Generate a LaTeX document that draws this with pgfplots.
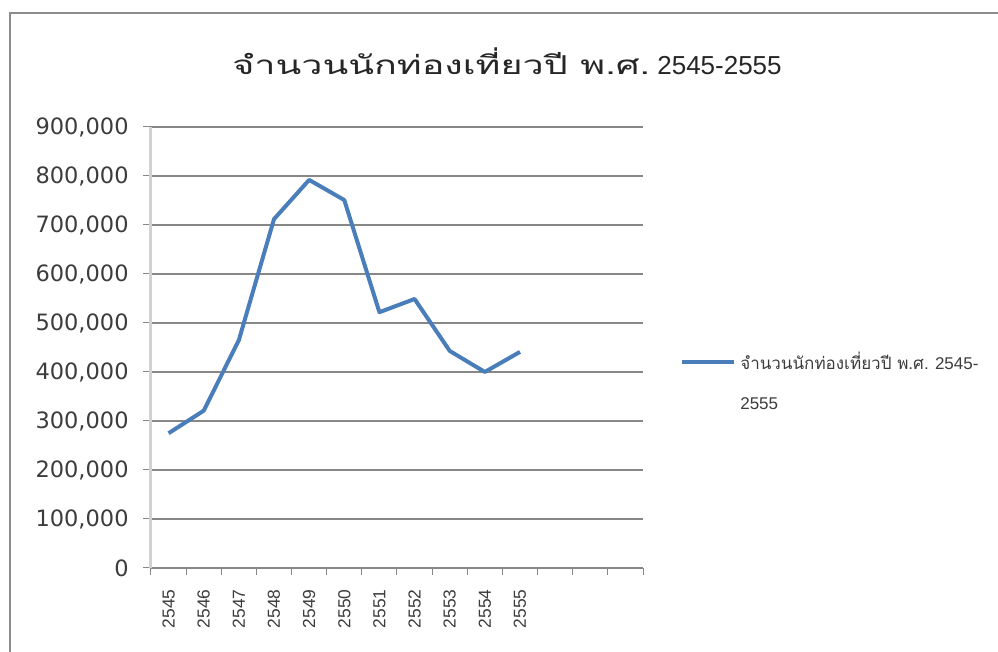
\documentclass[border=0pt]{standalone}
\usepackage{fontspec}
\setmainfont{Liberation Sans}
\newfontfamily\thaifont[Script=Thai]{Loma}
\newfontfamily\dejavu{DejaVu Sans}
\usepackage{graphicx}
\usepackage{pgfplots}
\pgfplotsset{compat=1.18}
\definecolor{serieblue}{HTML}{4A7EBB}
\definecolor{gridgray}{HTML}{878787}
\definecolor{labelgray}{HTML}{3C3C3C}

\begin{document}
\begin{tikzpicture}
  \useasboundingbox (0,0) rectangle (499pt,326pt);
  % chart frame (cut at right and bottom)
  \draw[color=gray!90, line width=1pt] (4.75pt,-2pt) -- (4.75pt,319.25pt) -- (502pt,319.25pt);
  \node[font=\fontsize{13}{15}\selectfont, text=black!85] at (253.5pt,295.5pt)
    {{\thaifont\fontsize{13}{16}\selectfont\scalebox{1.45}[1]{จำนวนนักท่องเที่ยวปี พ.ศ.}} 2545-2555};
  \begin{axis}[
      at={(75.5pt,42pt)}, anchor=south west,
      scale only axis, width=246pt, height=220.5pt,
      xmin=-0.5, xmax=13.5, ymin=0, ymax=900000,
      axis x line*=bottom, axis y line*=left,
      x axis line style={-, color=gridgray, line width=0.7pt},
      y axis line style={-, color=gray!35, line width=1.5pt},
      xtick={0,1,2,3,4,5,6,7,8,9,10},
      xticklabels={2545,2546,2547,2548,2549,2550,2551,2552,2553,2554,2555},
      major x tick style={draw=none},
      minor xtick={-0.5,0.5,...,13.5},
      minor x tick style={color=gridgray, line width=0.5pt},
      ytick={0,100000,200000,300000,400000,500000,600000,700000,800000,900000},
      y tick style={color=gridgray, line width=0.5pt},
      tick align=outside,
      major tick length=4pt, minor tick length=3.5pt,
      scaled y ticks=false,
      /pgf/number format/assume math mode=true,
      yticklabel={\pgfmathprintnumber[fixed,precision=0,1000 sep={,}]{\tick}},
      yticklabel style={font=\dejavu\fontsize{11.25}{13}\selectfont, text=labelgray, anchor=east, inner sep=0pt, xshift=-7pt},
      xticklabel style={font=\fontsize{8.7}{10}\selectfont, text=labelgray, rotate=90, anchor=east, inner sep=0pt, xshift=-6.5pt},
      ymajorgrids,
      major grid style={color=gridgray, line width=0.6pt},
      legend style={draw=none, fill=none, at={(1.075,0.467)}, anchor=west,
        inner sep=0pt, font=\fontsize{8.5}{10}\selectfont, text=labelgray,
        cells={inner xsep=0pt}},
      legend cell align={left},
      legend image code/.code={\draw[#1] (0pt,0pt) -- (26pt,0pt);},
    ]
    \addplot[color=serieblue, line width=2pt, line join=round] coordinates {
        (0,275000)
        (1,321000)
        (2,465000)
        (3,712000)
        (4,792000)
        (5,751000)
        (6,522000)
        (7,549000)
        (8,443000)
        (9,400000)
        (10,441000)
      };
    \addlegendentry{\rlap{\raisebox{-20pt}[0pt][0pt]{2555}}{\thaifont จำนวนนักท่องเที่ยวปี พ.ศ.} 2545-}
  \end{axis}
\end{tikzpicture}
\end{document}
